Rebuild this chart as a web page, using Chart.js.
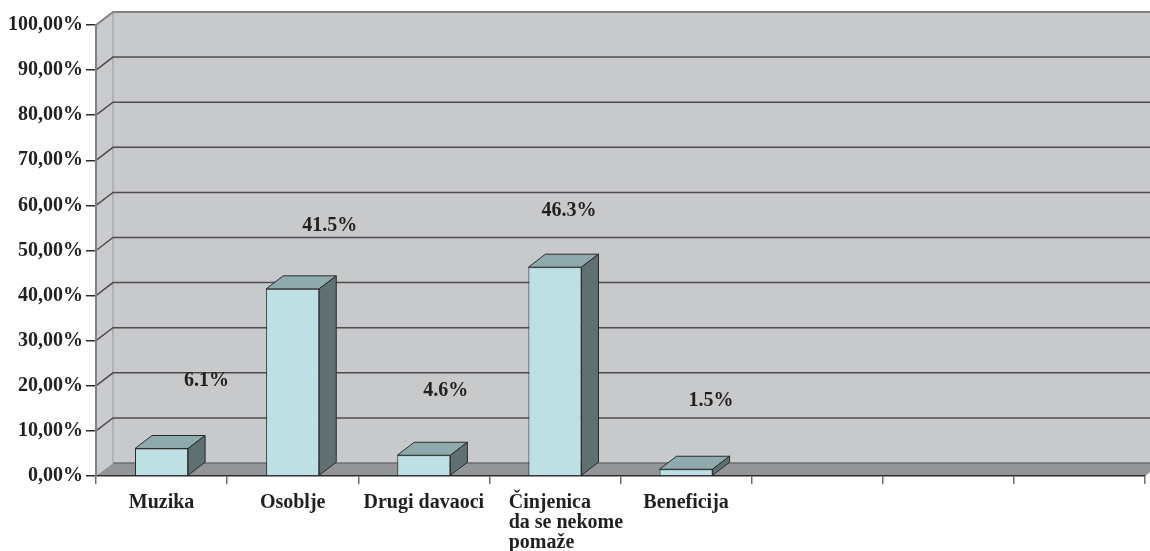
<!DOCTYPE html>
<html>
<head>
<meta charset="utf-8">
<script src="https://cdn.jsdelivr.net/npm/chart.js@4"></script>
<style>
  body { margin: 0; background: #fff; }
</style>
</head>
<body>
<canvas id="chart" width="1150" height="551"></canvas>
<script>
// categories (last three are empty slots, as in the original sheet)
const categories = ["Muzika", "Osoblje", "Drugi davaoci", ["Činjenica", "da se nekome", "pomaže"], "Beneficija", "", "", ""];
// share of answers, in percent
const shares = [6.1, 41.5, 4.6, 46.3, 1.5];
// y axis ticks
const yTicks = [0, 10, 20, 30, 40, 50, 60, 70, 80, 90, 100];

// nudges for the value labels (they float loosely above the bars)
const labelShift = [[45, -68], [37, -63], [22, -64], [14, -56], [25, -68]];

const dx = 17, dy = 13;          // depth of the 3d box
const font = "'Liberation Serif', 'Times New Roman', serif";
const textColor = "#231f20";
const fontSize = 20;

function poly(ctx, pts) {
  ctx.beginPath();
  ctx.moveTo(pts[0][0], pts[0][1]);
  for (let i = 1; i < pts.length; i++) ctx.lineTo(pts[i][0], pts[i][1]);
  ctx.closePath();
}

//walls, floor and the gridlines on the back wall
const walls = {
  id: "walls",
  beforeDraw(chart) {
    const { ctx, chartArea: a, scales } = chart;
    const y = scales.y;
    const W = chart.width + 20;
    ctx.save();
    // left wall
    ctx.fillStyle = "#cacbcd";
    poly(ctx, [[a.left, a.top], [a.left + dx, a.top - dy], [a.left + dx, a.bottom - dy], [a.left, a.bottom]]);
    ctx.fill();
    // back wall
    ctx.fillStyle = "#c8c9cb";
    ctx.fillRect(a.left + dx, a.top - dy, W, a.bottom - a.top);
    // floor
    ctx.fillStyle = "#939598";
    poly(ctx, [[a.left, a.bottom], [a.left + dx, a.bottom - dy], [a.right + dx, a.bottom - dy], [a.right, a.bottom]]);
    ctx.fill();
    ctx.strokeStyle = "#6d6e71";
    ctx.lineWidth = 1.5;
    ctx.beginPath();
    ctx.moveTo(a.left + dx, a.bottom - dy);
    ctx.lineTo(W, a.bottom - dy);
    ctx.stroke();
    // back wall left edge
    ctx.strokeStyle = "#a7a8aa";
    ctx.lineWidth = 1.5;
    ctx.beginPath();
    ctx.moveTo(a.left + dx, a.top - dy);
    ctx.lineTo(a.left + dx, a.bottom - dy);
    ctx.stroke();
    // gridlines
    yTicks.forEach((v) => {
      if (v === 0) return;
      const py = y.getPixelForValue(v);
      ctx.strokeStyle = v === 100 ? "#808285" : "#4d4d4f";
      ctx.lineWidth = v === 100 ? 2 : 1.5;
      ctx.beginPath();
      ctx.moveTo(a.left, py);
      ctx.lineTo(a.left + dx, py - dy);
      ctx.lineTo(W, py - dy);
      ctx.stroke();
    });
    ctx.restore();
  },
};

// top and side faces of the boxes, plus the value labels
const boxes = {
  id: "boxes",
  afterDatasetsDraw(chart) {
    const ctx = chart.ctx;
    const meta = chart.getDatasetMeta(0);
    ctx.save();
    ctx.strokeStyle = "#2b2b2b";
    ctx.lineWidth = 1;
    meta.data.forEach((bar, i) => {
      const l = bar.x - bar.width / 2, r = bar.x + bar.width / 2;
      const t = bar.y, b = bar.base;
      ctx.fillStyle = "#8eaaad";
      poly(ctx, [[l, t], [l + dx, t - dy], [r + dx, t - dy], [r, t]]);
      ctx.fill();
      ctx.stroke();
      ctx.fillStyle = "#5e7072";
      poly(ctx, [[r, t], [r + dx, t - dy], [r + dx, b - dy], [r, b]]);
      ctx.fill();
      ctx.stroke();
    });
    ctx.fillStyle = textColor;
    ctx.font = "bold " + fontSize + "px " + font;
    ctx.textAlign = "center";
    ctx.textBaseline = "middle";
    meta.data.forEach((bar, i) => {
      const s = labelShift[i] || [0, -60];
      ctx.fillText(shares[i].toFixed(1) + "%", bar.x + s[0], bar.y + s[1]);
    });
    ctx.restore();
  },
  // category names: wrapped labels are left aligned like in Excel
  afterDraw(chart) {
    const { ctx, chartArea: a, scales } = chart;
    const x = scales.x;
    ctx.save();
    ctx.fillStyle = textColor;
    ctx.font = "bold " + fontSize + "px " + font;
    ctx.textBaseline = "alphabetic";
    categories.forEach((c, i) => {
      const cx = x.getPixelForValue(i);
      const base = a.bottom + 32;
      if (Array.isArray(c)) {
        const w = Math.max(...c.map((s) => ctx.measureText(s).width));
        ctx.textAlign = "left";
        c.forEach((s, k) => ctx.fillText(s, cx - w / 2 + 11, base + k * 20));
      } else {
        ctx.textAlign = "center";
        ctx.fillText(c, cx, base);
      }
    });
    ctx.restore();
  },
};

new Chart(document.getElementById("chart"), {
  type: "bar",
  data: {
    labels: categories,
    datasets: [
      {
        data: shares,
        backgroundColor: "#bde0e4",
        borderColor: "#2b2b2b",
        borderWidth: 1,
        categoryPercentage: 1,
        barPercentage: 0.405,
      },
    ],
  },
  plugins: [walls, boxes],
  options: {
    responsive: false,
    devicePixelRatio: 1,
    animation: false,
    layout: { padding: { top: 25, right: 5, left: 0, bottom: 0 } },
    plugins: { legend: { display: false }, tooltip: { enabled: false } },
    scales: {
      x: {
        afterFit: (s) => { s.height = 75; },
        grid: { offset: true, drawOnChartArea: false, tickLength: 8, color: "#6d6e71", lineWidth: 1.5 },
        border: { color: "#2b2b2b", width: 1.5 },
        ticks: { display: false },
      },
      y: {
        min: 0,
        max: 100,
        afterFit: (s) => { s.width = 96; },
        afterBuildTicks: (s) => { s.ticks = yTicks.map((v) => ({ value: v })); },
        grid: { drawOnChartArea: false, tickLength: 10, color: "#2b2b2b", lineWidth: 1.5 },
        border: { color: "#808285", width: 2 },
        ticks: {
          color: textColor,
          padding: 3,
          font: { family: font, size: fontSize, weight: "bold" },
          callback: (v) => v.toFixed(2).replace(".", ",") + "%",
        },
      },
    },
  },
});
</script>
</body>
</html>
